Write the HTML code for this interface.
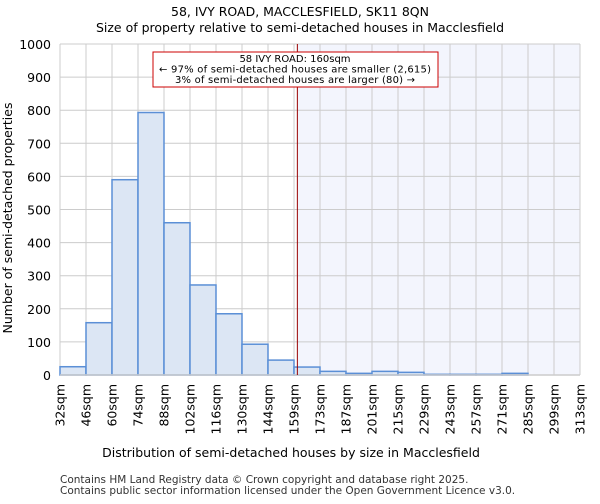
<!DOCTYPE html>
<html><head><meta charset="utf-8"><style>
body{margin:0;background:#fff;font-family:"DejaVu Sans","Liberation Sans",sans-serif}
</style></head><body>
<svg width="600" height="500" style="font-family:'DejaVu Sans','Liberation Sans',sans-serif">
<text x="300" y="16" text-anchor="middle" font-size="12.5">58, IVY ROAD, MACCLESFIELD, SK11 8QN</text>
<text x="300" y="32" text-anchor="middle" font-size="12.5">Size of property relative to semi-detached houses in Macclesfield</text>
<g id="plot"></g>
<text x="291" y="457" text-anchor="middle" font-size="12.5">Distribution of semi-detached houses by size in Macclesfield</text>
<text transform="translate(12,218) rotate(-90)" text-anchor="middle" font-size="12.5">Number of semi-detached properties</text>
<text x="60" y="483" font-size="10.5" fill="#333">Contains HM Land Registry data © Crown copyright and database right 2025.</text>
<text x="60" y="494" font-size="10.5" fill="#333">Contains public sector information licensed under the Open Government Licence v3.0.</text>
</svg>
<script>
const binEdges=[32,46,60,74,88,102,116,130,144,159,173,187,201,215,229,243,257,271,285,299,313];
const counts=[25,158,590,793,460,272,185,93,45,24,11,5,11,8,2,2,2,5,0,0];
const yTicks=[0,100,200,300,400,500,600,700,800,900,1000];
const propertySize=160;
const ns="http://www.w3.org/2000/svg";
const g=document.getElementById('plot');
const X0=60,X1=580,Y0=375,Y1=44;
const nb=counts.length,bw=(X1-X0)/nb;
const xi=i=>X0+i*bw;
const xv=v=>{for(let i=0;i<binEdges.length-1;i++){if(v<=binEdges[i+1])return xi(i)+bw*(v-binEdges[i])/(binEdges[i+1]-binEdges[i]);}return X1;};
const y=v=>Y0-(Y0-Y1)*v/1000;
function mk(t,a){const e=document.createElementNS(ns,t);for(const k in a)e.setAttribute(k,a[k]);g.appendChild(e);return e;}
const px=xv(propertySize)+1.5;
let e=mk('rect',{x:px,y:Y1,width:X1-px,height:Y0-Y1,fill:'#f3f5fd'});


yTicks.forEach(t=>{
 let l=mk('line',{x1:X0,x2:X1,y1:y(t),y2:y(t),stroke:'#ccc','stroke-width':1});
 
 
 let tx=mk('text',{x:X0-9,y:y(t)+5,'text-anchor':'end','font-size':12.5});
 tx.textContent=t;
 
 
});
binEdges.forEach((b,i)=>{
 let l=mk('line',{x1:xi(i),x2:xi(i),y1:Y1,y2:Y0,stroke:'#ccc','stroke-width':1});
 
 
 let tx=mk('text',{transform:`translate(${xi(i)+4.5},${Y0+9}) rotate(-90)`,'text-anchor':'end','font-size':12.5});
 tx.textContent=b+'sqm';
 
 
});
counts.forEach((c,i)=>{
 if(c<=0)return;
 let r=mk('rect',{x:xi(i),y:y(c),width:bw,height:Y0-y(c),fill:'#dce6f4',stroke:'#5b8fd6','stroke-width':1.5});
 
 
});
e=mk('line',{x1:X0,x2:X1,y1:Y0,y2:Y0,stroke:'#ccc','stroke-width':1.5});


e=mk('line',{x1:px,x2:px,y1:Y1,y2:Y0,stroke:'#990000','stroke-width':1});


e=mk('rect',{x:153,y:52,width:285,height:35,fill:'#fff',stroke:'#c00','stroke-width':1});


["58 IVY ROAD: 160sqm","← 97% of semi-detached houses are smaller (2,615)","3% of semi-detached houses are larger (80) →"].forEach((s,i)=>{
 let t=mk('text',{x:295,y:62+i*10.5,'text-anchor':'middle','font-size':10,textLength:i==0?'':null});
 if(i>0)t.setAttribute('textLength',i==1?272:240);
 else t.removeAttribute('textLength');
 t.textContent=s;
 
 
});
</script>
</body></html>
